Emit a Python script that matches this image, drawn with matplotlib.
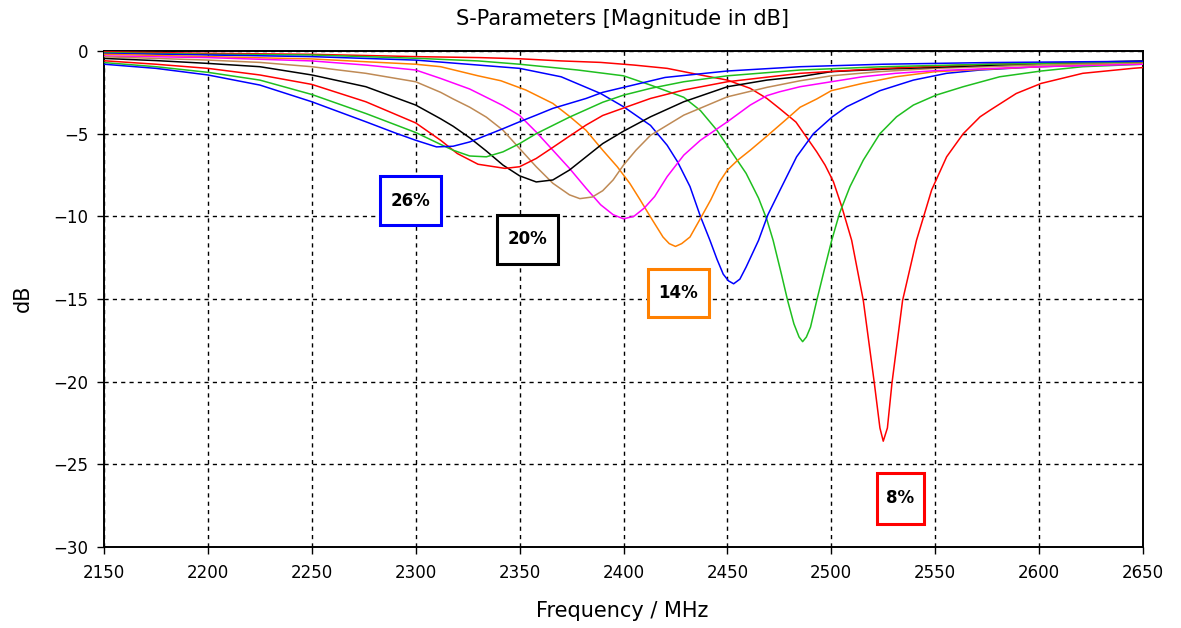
import matplotlib
matplotlib.use("Agg")
import matplotlib.pyplot as plt
from matplotlib.patches import Rectangle

plt.rcParams['font.family'] = ['DejaVu Sans']

# S11 curves (frequency in MHz, magnitude in dB)
f_08 = [2150, 2200, 2250, 2300, 2331, 2350, 2370, 2389, 2405, 2421, 2437, 2450, 2461, 2469, 2475,
        2483, 2488, 2493, 2497, 2501, 2505, 2509.8, 2515.4, 2520.7, 2523.4, 2525, 2527, 2529.2,
        2534.3, 2541, 2548.3, 2555.5, 2563.5, 2571.6, 2576.4, 2589, 2601, 2621, 2645, 2650]
db_08 = [-0.05, -0.14, -0.2, -0.34, -0.4, -0.47, -0.6, -0.69, -0.85, -1.05, -1.45, -1.76, -2.26,
         -2.87, -3.47, -4.3, -5.2, -6.1, -6.9, -7.9, -9.4, -11.45, -15.09, -20.08, -22.8, -23.6,
         -22.8, -20.08, -15.09, -11.45, -8.4, -6.4, -5.0, -3.98, -3.58, -2.57, -1.96, -1.35,
         -1.05, -1.0]

f_10 = [2150, 2200, 2250, 2300, 2330, 2350, 2378, 2400, 2413, 2429, 2437, 2445, 2452, 2459, 2465,
        2469, 2472, 2476, 2479, 2482, 2484.5, 2486.2, 2488, 2490, 2493, 2496.5, 2500.2, 2504,
        2509, 2515.4, 2523.4, 2531.4, 2539.5, 2550.4, 2563.5, 2581, 2601, 2621, 2650]
db_10 = [-0.1, -0.2, -0.24, -0.44, -0.6, -0.8, -1.15, -1.5, -2.06, -2.8, -3.6, -4.8, -6.1, -7.4,
         -8.9, -10.2, -11.45, -13.5, -15.1, -16.5, -17.3, -17.58, -17.3, -16.7, -15.09, -13.3,
         -11.45, -9.8, -8.2, -6.6, -5.0, -3.98, -3.27, -2.67, -2.16, -1.56, -1.21, -0.95, -0.8]

f_12 = [2150, 2200, 2250, 2300, 2330, 2350, 2370, 2389, 2400, 2413, 2421, 2426, 2432, 2437,
        2441.6, 2445, 2448, 2450.5, 2453, 2456, 2459, 2465, 2469.5, 2475.3, 2483.3, 2491.4,
        2500.5, 2507.4, 2523.4, 2539.5, 2555.5, 2571.6, 2600, 2650]
db_12 = [-0.15, -0.24, -0.34, -0.55, -0.85, -1.05, -1.56, -2.57, -3.37, -4.5, -5.7, -6.7, -8.2,
         -10.0, -11.45, -12.6, -13.5, -13.9, -14.08, -13.8, -13.07, -11.45, -9.9, -8.42, -6.4,
         -5.0, -3.98, -3.37, -2.4, -1.76, -1.35, -1.15, -0.95, -0.75]

f_14 = [2150, 2200, 2250, 2276, 2300, 2312, 2330, 2341, 2353, 2366, 2374, 2382, 2390, 2397, 2403,
        2408, 2413, 2419, 2422, 2425, 2428, 2432, 2437.6, 2442, 2446, 2450, 2455, 2461, 2469,
        2477, 2485, 2493, 2500, 2515, 2531, 2550, 2600, 2650]
db_14 = [-0.2, -0.34, -0.48, -0.65, -0.8, -0.95, -1.5, -1.8, -2.36, -3.17, -3.95, -4.8, -6.0,
         -7.0, -8.0, -9.0, -10.04, -11.25, -11.65, -11.82, -11.65, -11.25, -10.0, -9.0, -7.95,
         -7.2, -6.6, -6.0, -5.15, -4.28, -3.4, -2.9, -2.4, -1.96, -1.56, -1.25, -0.95, -0.75]

f_16 = [2150, 2200, 2250, 2276, 2300, 2312, 2326, 2342, 2350, 2358, 2366, 2374, 2382, 2389, 2395,
        2400, 2405, 2410, 2415, 2421, 2429, 2437, 2450, 2461, 2469, 2475, 2485, 2500, 2515, 2531,
        2550, 2600, 2650]
db_16 = [-0.3, -0.4, -0.6, -0.85, -1.15, -1.66, -2.3, -3.3, -3.9, -4.9, -6.0, -7.1, -8.3, -9.3,
         -9.9, -10.15, -10.0, -9.5, -8.8, -7.6, -6.3, -5.4, -4.28, -3.27, -2.7, -2.47, -2.16,
         -1.86, -1.56, -1.35, -1.19, -0.95, -0.8]

f_18 = [2150, 2175, 2200, 2225, 2250, 2276, 2300, 2312, 2318, 2326, 2334, 2342, 2350, 2358, 2366,
        2374, 2379, 2385, 2390, 2395, 2400, 2406, 2413, 2429, 2450, 2469, 2485, 2500, 2523, 2550,
        2600, 2650]
db_18 = [-0.35, -0.45, -0.55, -0.69, -0.95, -1.35, -1.86, -2.5, -2.9, -3.4, -4.0, -4.79, -5.9,
         -7.0, -8.0, -8.7, -8.93, -8.83, -8.45, -7.8, -6.9, -6.0, -5.1, -3.88, -2.77, -2.2, -1.8,
         -1.5, -1.25, -1.05, -0.85, -0.7]

f_20 = [2150, 2175, 2200, 2225, 2250, 2276, 2300, 2312, 2318, 2326, 2334, 2342, 2350, 2358, 2366,
        2374, 2382, 2390, 2400, 2413, 2429, 2450, 2469, 2485, 2500, 2525, 2550, 2600, 2650]
db_20 = [-0.45, -0.58, -0.75, -0.95, -1.45, -2.16, -3.27, -4.1, -4.55, -5.25, -6.05, -6.9, -7.55,
         -7.92, -7.8, -7.2, -6.4, -5.6, -4.85, -3.98, -3.07, -2.16, -1.76, -1.55, -1.25, -1.1,
         -0.99, -0.75, -0.6]

f_22 = [2150, 2175, 2200, 2225, 2250, 2276, 2300, 2312, 2320, 2330, 2343, 2350, 2358, 2366, 2374,
        2382, 2390, 2400, 2413, 2429, 2450, 2485, 2525, 2575, 2650]
db_22 = [-0.59, -0.8, -1.05, -1.45, -2.02, -3.07, -4.35, -5.4, -6.2, -6.85, -7.1, -7.0, -6.5,
         -5.83, -5.15, -4.48, -3.9, -3.45, -2.87, -2.36, -1.86, -1.35, -1.05, -0.8, -0.65]

f_24 = [2150, 2175, 2200, 2225, 2250, 2276, 2300, 2312, 2318, 2326, 2334, 2342, 2350, 2358, 2366,
        2374, 2382, 2390, 2400, 2413, 2429, 2450, 2485, 2525, 2575, 2650]
db_24 = [-0.7, -0.95, -1.29, -1.76, -2.63, -3.78, -4.93, -5.65, -6.0, -6.35, -6.4, -6.1, -5.6,
         -5.0, -4.5, -4.0, -3.55, -3.1, -2.67, -2.26, -1.86, -1.5, -1.15, -0.95, -0.8, -0.65]

f_26 = [2150, 2175, 2200, 2225, 2250, 2276, 2290, 2300, 2310, 2318, 2326, 2334, 2342, 2350, 2358,
        2366, 2374, 2382, 2390, 2400, 2420, 2450, 2485, 2525, 2575, 2650]
db_26 = [-0.8, -1.05, -1.45, -2.06, -3.07, -4.28, -4.95, -5.4, -5.8, -5.76, -5.5, -5.1, -4.7,
         -4.28, -3.88, -3.47, -3.17, -2.87, -2.5, -2.2, -1.6, -1.21, -0.95, -0.8, -0.7, -0.62]

curves = [(f_08, db_08), (f_10, db_10), (f_12, db_12), (f_14, db_14), (f_16, db_16),
          (f_18, db_18), (f_20, db_20), (f_22, db_22), (f_24, db_24), (f_26, db_26)]
colors = ['#ff0000', '#1fbf1f', '#0000ff', '#ff8000', '#ff00ff',
          '#bf8a55', '#000000', '#ff0000', '#1fbf1f', '#0000ff']

# labelled boxes: text, colour, (f_left, f_right, db_top, db_bottom)
box_texts = ['26%', '20%', '14%', '8%']
box_colors = ['#0000ff', '#000000', '#ff8000', '#ff0000']
box_spans = [(2282.8, 2312.2, -7.58, -10.55), (2339.0, 2368.6, -9.9, -12.9),
             (2411.6, 2441.2, -13.17, -16.1), (2522.0, 2544.6, -25.5, -28.6)]

fig = plt.figure(figsize=(11.81, 6.28), dpi=100)
ax = fig.add_axes([104 / 1181, 1 - 547 / 628, (1143 - 104) / 1181, (547 - 51) / 628])

for (f, db), c in zip(curves, colors):
    ax.plot(f, db, color=c, linewidth=1.1, zorder=3)

for txt, c, (x0, x1, y0, y1) in zip(box_texts, box_colors, box_spans):
    ax.add_patch(Rectangle((x0, y1), x1 - x0, y0 - y1, facecolor='white', edgecolor=c,
                           linewidth=2.2, zorder=5))
    ax.text((x0 + x1) / 2, (y0 + y1) / 2, txt, ha='center', va='center', fontsize=12,
            fontweight='bold', color='black', zorder=6)

ax.set_xlim(2150, 2650)
ax.set_ylim(-30, 0)
ax.set_xticks(range(2150, 2651, 50))
ax.set_yticks(range(-30, 1, 5))
ax.tick_params(direction='out', length=5, width=1, labelsize=12, colors='black')
ax.tick_params(axis='x', pad=7)
ax.tick_params(axis='y', pad=6)
ax.grid(True, color='black', linestyle=(0, (3, 3)), linewidth=1.0)
ax.set_axisbelow(True)
for s in ax.spines.values():
    s.set_linewidth(1.4)
    s.set_color('black')

fig.text(623 / 1181, 1 - 19 / 628, 'S-Parameters [Magnitude in dB]', ha='center', va='center',
         fontsize=15)
fig.text(622 / 1181, 1 - 611 / 628, 'Frequency / MHz', ha='center', va='center', fontsize=15)
fig.text(23 / 1181, 1 - 298 / 628, 'dB', ha='center', va='center', rotation=90, fontsize=15)

fig.savefig('out.png', dpi=100, facecolor='white')
